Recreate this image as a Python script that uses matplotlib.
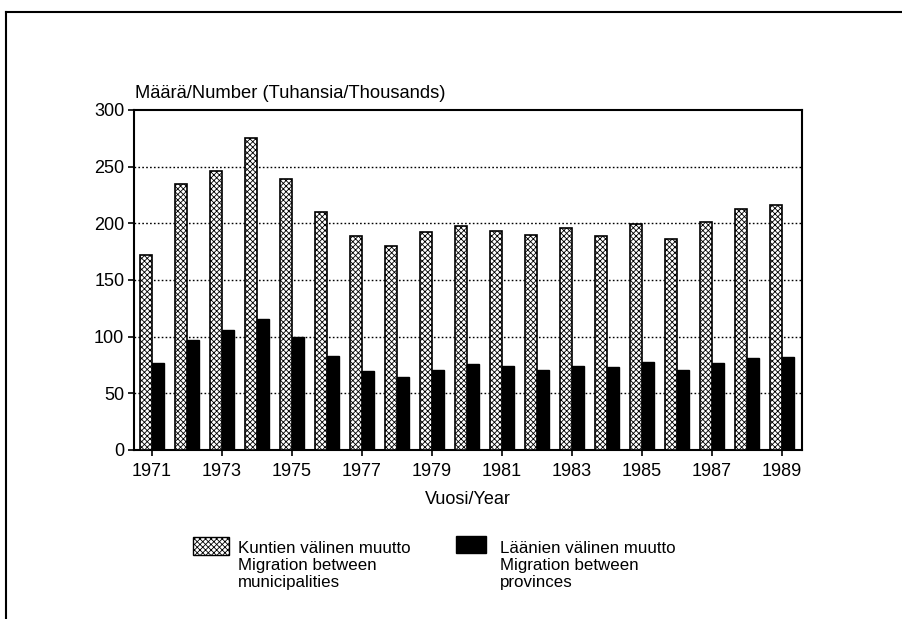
import matplotlib
matplotlib.use('Agg')
import matplotlib.pyplot as plt
from matplotlib.patches import Rectangle
from matplotlib.lines import Line2D

plt.rcParams['font.family'] = ['Liberation Sans', 'DejaVu Sans']
plt.rcParams['hatch.linewidth'] = 0.6

# Data (thousands)
years = [1971, 1972, 1973, 1974, 1975, 1976, 1977, 1978, 1979, 1980,
         1981, 1982, 1983, 1984, 1985, 1986, 1987, 1988, 1989]
municipalities = [172, 235, 246, 275, 239, 210, 189, 180, 192, 198,
                  193, 190, 196, 189, 199, 186, 201, 213, 216]
provinces = [77, 97, 106, 116, 100, 83, 70, 64, 71, 76,
             74, 71, 74, 73, 78, 71, 77, 81, 82]
tick_years = years[::2]

fig = plt.figure(figsize=(9.02, 6.19), dpi=100)
ax = fig.add_axes([134 / 902, 1 - 450 / 619, 668 / 902, 340 / 619])

# Bars
bw = 0.34
ax.bar(years, municipalities, width=-bw, align='edge', facecolor='white',
       edgecolor='black', hatch='xxxxxx', linewidth=1.2, zorder=3)
ax.bar(years, provinces, width=bw, align='edge', color='black',
       edgecolor='black', linewidth=1.0, zorder=3)

# Axes and grid
ax.set_xlim(1970.49, 1989.57)
ax.set_ylim(0, 300)
ax.set_yticks([0, 50, 100, 150, 200, 250, 300])
ax.set_xticks(tick_years)
ax.tick_params(axis='y', direction='out', length=4, width=1.2, labelsize=13, pad=3)
ax.tick_params(axis='x', direction='out', length=4, width=1.2, labelsize=13, pad=5)
for y in [50, 100, 150, 200, 250]:
    ax.axhline(y, color='black', linestyle=(0, (1.2, 1.6)), linewidth=1.0, zorder=1)
for s in ax.spines.values():
    s.set_linewidth(1.5)

ax.set_xlabel('Vuosi/Year', fontsize=13, labelpad=8)
fig.text(135 / 902, 1 - 93 / 619, 'Määrä/Number (Tuhansia/Thousands)',
         fontsize=13.2, ha='left', va='center')

# Legend
fig.add_artist(Rectangle((193 / 902, 1 - 555 / 619), 36 / 902, 18 / 619,
                         transform=fig.transFigure, facecolor='white',
                         edgecolor='black', hatch='xxxxxx', linewidth=1.0))
fig.text(238 / 902, 1 - 541 / 619,
         'Kuntien välinen muutto\nMigration between\nmunicipalities',
         fontsize=12.2, ha='left', va='top', linespacing=1.15)
fig.add_artist(Rectangle((456 / 902, 1 - 553 / 619), 30 / 902, 17 / 619,
                         transform=fig.transFigure, facecolor='black',
                         edgecolor='black', linewidth=1.0))
fig.text(500 / 902, 1 - 541 / 619,
         'Läänien välinen muutto\nMigration between\nprovinces',
         fontsize=12.2, ha='left', va='top', linespacing=1.15)

# Page frame (left and top)
fig.add_artist(Line2D([6 / 902, 6 / 902], [0, 1 - 12 / 619],
                      transform=fig.transFigure, color='black', linewidth=1.5))
fig.add_artist(Line2D([6 / 902, 1], [1 - 12 / 619, 1 - 12 / 619],
                      transform=fig.transFigure, color='black', linewidth=1.5))

fig.savefig('out.png', dpi=100)
